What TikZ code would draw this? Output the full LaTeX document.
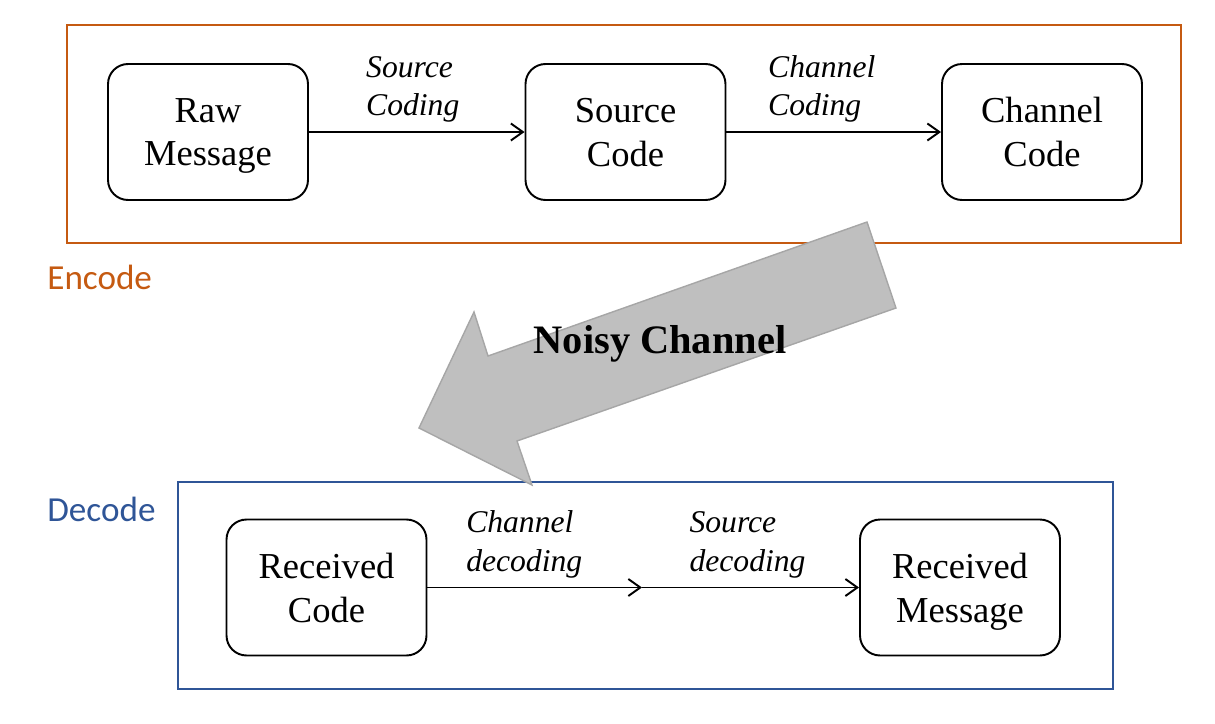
\documentclass[tikz,border=0pt]{standalone}
\usepackage{fontspec}
\setmainfont{Liberation Serif}
\newfontfamily\calibrifont{Carlito}
\usepackage{tikz}
\usetikzlibrary{calc, shapes, arrows.meta}
\definecolor{encodecol}{HTML}{C55A11}
\definecolor{decodecol}{HTML}{2F5597}
\definecolor{noisefill}{HTML}{BFBFBF}
\definecolor{noisedraw}{HTML}{A6A6A6}

\begin{document}
\begin{tikzpicture}[x=0.02cm,y=-0.02cm]
\tikzstyle{box}=[draw,rounded corners=0.4cm,line width=1.1pt,minimum width=4cm,minimum height=2.72cm,align=center,text depth=0pt,font=\fontsize{20.8}{25}\selectfont]
\tikzstyle{step label}=[above=0.17cm,inner sep=0pt,align=left,font=\fontsize{18}{22}\selectfont\itshape]
\tikzstyle{flow}=[line width=1.1pt,-{Straight Barb[length=2.4mm,width=3.4mm,line width=1.1pt]}]
\tikzstyle{frame}=[line width=1.1pt]
\useasboundingbox (0,0) rectangle (1215,724);
\draw[frame,encodecol] (67,25) rectangle (1181,243);
\draw[frame,decodecol] (178,482) rectangle (1113,689);
\node[anchor=base west,text=encodecol,font=\calibrifont\fontsize{20}{24}\selectfont,inner sep=0pt] (enc) at (47,289) {Encode};
\node[anchor=base west,text=decodecol,font=\calibrifont\fontsize{20}{24}\selectfont,inner sep=0pt] (dec) at (47,521) {Decode};
\node[box] (E_0) at (208,132) {Raw\\Message};
\node[box] (E_1) at (625.5,132) {Source\\Code};
\node[box] (E_2) at (1042,132) {Channel\\Code};
\node[box] (D_0) at (326.5,587.5) {Received\\Code};
\node[box] (D_1) at (960,587.5) {Received\\Message};
\coordinate (D_m) at (642,587.5);
\draw[flow] (E_0) -- node[step label,xshift=-0.08cm] {Source\\Coding} (E_1);
\draw[flow] (E_1) -- node[step label,xshift=-0.24cm] {Channel\\Coding} (E_2);
\draw[flow] (D_0) -- node[step label,xshift=-0.21cm] {Channel\\decoding} (D_m);
\draw[flow] (D_m) -- node[step label,xshift=-0.06cm] {Source\\decoding} (D_1);
\fill[noisefill,draw=noisedraw,line width=0.8pt] (867,222) -- (896,308) -- (517,441) -- (532,485) -- (419,428) -- (474,312) -- (488,356) -- cycle;
\node[font=\fontsize{23}{28}\selectfont\bfseries,anchor=base,inner sep=0pt] (noise) at (660,353) {Noisy Channel};
\end{tikzpicture}
\end{document}
